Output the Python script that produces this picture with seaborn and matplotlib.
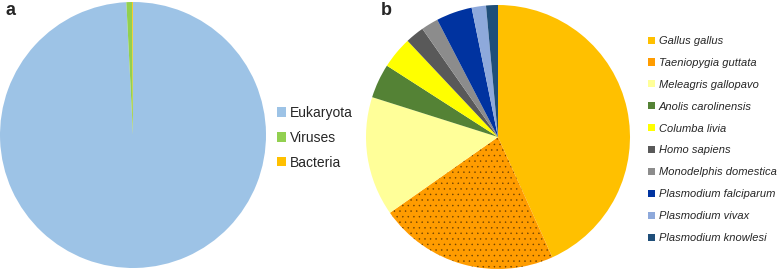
import matplotlib
matplotlib.use("Agg")
import matplotlib.pyplot as plt
from matplotlib.patches import Patch
import seaborn as sns

sns.set_theme(style="white")
plt.rcParams['font.family'] = ['Liberation Sans', 'DejaVu Sans']
plt.rcParams['hatch.linewidth'] = 0.3

# Panel a data
kingdoms = ["Eukaryota", "Viruses", "Bacteria"]
kingdom_share = [99.2, 0.7, 0.1]
kingdom_colors = ["#9DC3E6", "#92D050", "#FFC000"]

# Panel b data
species = ["Gallus gallus", "Taeniopygia guttata", "Meleagris gallopavo",
           "Anolis carolinensis", "Columba livia", "Homo sapiens",
           "Monodelphis domestica", "Plasmodium falciparum",
           "Plasmodium vivax", "Plasmodium knowlesi"]
species_share = [43.2, 22.0, 14.6, 4.2, 3.9, 2.3, 2.1, 4.4, 1.75, 1.45]
species_colors = ["#FFC000", "#FF9C00", "#FFFF99", "#548235", "#FFFF00",
                  "#595959", "#8C8C8C", "#0033A0", "#8EA9DB", "#1F4E79"]

W, H = 784, 270
fig = plt.figure(figsize=(W / 100, H / 100), dpi=100)

def px_axes(cx, cy, r):
    return fig.add_axes([(cx - r) / W, (H - cy - r) / H, 2 * r / W, 2 * r / H])

ax_a = px_axes(133, 135, 133)
ax_a.pie(kingdom_share, colors=kingdom_colors, startangle=90, counterclock=False,
         radius=1, wedgeprops=dict(linewidth=0))
ax_a.set_xlim(-1, 1); ax_a.set_ylim(-1, 1); ax_a.set_aspect('equal'); ax_a.axis('off')

ax_b = px_axes(498, 137, 132)
wedges, _ = ax_b.pie(species_share, colors=species_colors, startangle=90,
                     counterclock=False, radius=1, wedgeprops=dict(linewidth=0))
wedges[1].set_hatch('...')
wedges[1].set_edgecolor('#6A4000')
wedges[1].set_linewidth(0)
ax_b.set_xlim(-1, 1); ax_b.set_ylim(-1, 1); ax_b.set_aspect('equal'); ax_b.axis('off')

# Legends
handles_a = [Patch(facecolor=c, edgecolor='none') for c in kingdom_colors]
fig.legend(handles_a, kingdoms, loc='upper left',
           bbox_to_anchor=(277 / W, 1 - 106 / H), frameon=False, fontsize=10,
           handlelength=0.65, handleheight=0.65, handletextpad=0.25,
           labelspacing=0.78, borderpad=0, borderaxespad=0)

handles_b = [Patch(facecolor=c, edgecolor='none') for c in species_colors]
leg_b = fig.legend(handles_b, species, loc='upper left',
                   bbox_to_anchor=(648 / W, 1 - 36 / H), frameon=False, fontsize=8,
                   handlelength=0.6, handleheight=0.6, handletextpad=0.35,
                   labelspacing=1.07, borderpad=0, borderaxespad=0)
for t in leg_b.get_texts():
    t.set_fontstyle('italic')

fig.text(6 / W, 1 - 15 / H, "a", fontsize=13, fontweight='bold', ha='left', va='baseline')
fig.text(381 / W, 1 - 15 / H, "b", fontsize=13, fontweight='bold', ha='left', va='baseline')

fig.savefig("out.png", dpi=100)
